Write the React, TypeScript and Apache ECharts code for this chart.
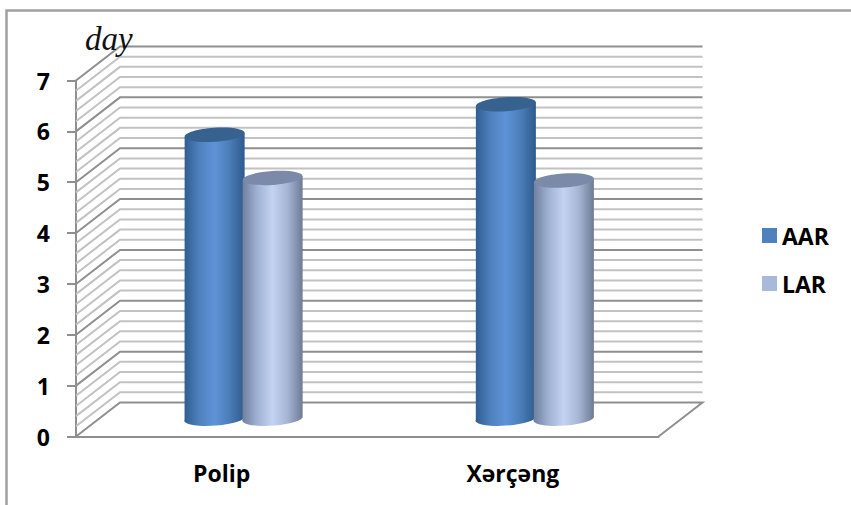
import React, { useEffect, useRef } from "react";
import * as echarts from "echarts";

const categories = ["Polip", "Xərçəng"];
const aarValues = [5.6, 6.2];
const larValues = [4.75, 4.7];
const yTicks = [0, 1, 2, 3, 4, 5, 6, 7];
const minorLevels = [
  0.2, 0.4, 0.6, 0.8, 1.2, 1.4, 1.6, 1.8, 2.2, 2.4, 2.6, 2.8, 3.2, 3.4, 3.6, 3.8,
  4.2, 4.4, 4.6, 4.8, 5.2, 5.4, 5.6, 5.8, 6.2, 6.4, 6.6, 6.8,
];

// Oblique projection of the floor depth, in pixels.
const DEPTH_X = 44;
const DEPTH_Y = 34;
const CYL_WIDTH = 60;
const RX = CYL_WIDTH / 2;
const RY = 7;
const TILT = -4;

const FONT = "'Open Sans', 'Noto Sans', sans-serif";

function App() {
  const ref = useRef<HTMLDivElement>(null);

  useEffect(() => {
    document.body.style.margin = "0";
    const chart = echarts.init(ref.current!, null, { renderer: "svg" });

    const wallLine = (isMajor: boolean) => ({
      stroke: isMajor ? "#8f8f8f" : "#c2c2c2",
      lineWidth: 2,
      fill: "none",
    });

    const renderWall = (params: any, api: any) => {
      const level = api.value(0) as number;
      const isMajor = yTicks.includes(level);
      const rect = params.coordSys;
      const y = api.coord([0, level])[1];
      const xL = rect.x;
      const xR = rect.x + rect.width;
      const points =
        level > 0
          ? [[xL, y], [xL + DEPTH_X, y - DEPTH_Y], [xR + DEPTH_X, y - DEPTH_Y]]
          : [[xL, y], [xL + DEPTH_X, y - DEPTH_Y], [xR + DEPTH_X, y - DEPTH_Y], [xR, y]];
      return {
        type: "polyline",
        shape: { points },
        style: wallLine(isMajor),
      };
    };

    const renderCylinder = (side: number, shades: string[], topColor: string) => (params: any, api: any) => {
      const base = api.coord([api.value(0), 0]);
      const top = api.coord([api.value(0), api.value(1)]);
      const cx = base[0] + DEPTH_X / 2 + (side * CYL_WIDTH) / 2 - side * 1;
      const by = base[1] - DEPTH_Y / 2;
      const ty = top[1] - DEPTH_Y / 2;
      const l = cx - RX;
      const r = cx + RX;
      const dy = TILT / 2;
      const rot = Math.atan2(-TILT, CYL_WIDTH);
      const rotDeg = (Math.atan2(TILT, CYL_WIDTH) * 180) / Math.PI;
      const d =
        `M${l} ${ty - dy}L${r} ${ty + dy}L${r} ${by + dy}` +
        `A${RX} ${RY} ${rotDeg} 0 1 ${l} ${by - dy}Z`;
      return {
        type: "group",
        children: [
          {
            type: "path",
            shape: { pathData: d },
            style: {
              fill: {
                type: "linear",
                x: 0,
                y: 0,
                x2: 1,
                y2: 0,
                colorStops: shades.map((color, i) => ({ offset: i / (shades.length - 1), color })),
              },
            },
          },
          {
            type: "ellipse",
            shape: { cx: 0, cy: 0, rx: RX, ry: RY },
            x: cx,
            y: ty,
            rotation: rot,
            style: { fill: topColor },
          },
        ],
      };
    };

    chart.setOption({
      animation: false,
      backgroundColor: "#ffffff",
      title: {
        text: "day",
        left: 80,
        top: 17,
        textStyle: {
          fontFamily: "'Liberation Serif', serif",
          fontStyle: "italic",
          fontWeight: "normal",
          fontSize: 33,
          color: "#111111",
        },
      },
      legend: {
        orient: "vertical",
        left: 762,
        top: 224,
        padding: 0,
        itemWidth: 15,
        itemHeight: 15,
        itemGap: 25,
        textStyle: { fontFamily: FONT, fontWeight: "bold", fontSize: 23, color: "#000000" },
        data: [
          { name: "AAR", icon: "rect", itemStyle: { color: "#4f81bd" } },
          { name: "LAR", icon: "rect", itemStyle: { color: "#a9b9d9" } },
        ],
      },
      grid: { left: 76, right: 192.5, top: 80.5, bottom: 68.5 },
      xAxis: {
        type: "category",
        data: categories,
        axisLine: { show: true, lineStyle: { color: "#8f8f8f", width: 2 } },
        axisTick: { show: false },
        axisLabel: { fontFamily: FONT, fontWeight: "bold", fontSize: 23, color: "#000000", margin: 25 },
      },
      yAxis: {
        type: "value",
        min: 0,
        max: 7,
        interval: 1,
        splitLine: { show: false },
        axisLine: { show: true, lineStyle: { color: "#8f8f8f", width: 2 } },
        axisTick: { show: true, length: 9, lineStyle: { color: "#8f8f8f", width: 2 } },
        axisLabel: { fontFamily: FONT, fontWeight: "bold", fontSize: 23, color: "#000000", margin: 26 },
      },
      graphic: [
        {
          type: "polyline",
          shape: { points: [[6.5, 505], [6.5, 10.5], [851, 10.5]] },
          style: { stroke: "#a0a0a0", lineWidth: 2.5, fill: "none" },
          silent: true,
        },
      ],
      series: [
        {
          type: "custom",
          name: "wall",
          coordinateSystem: "cartesian2d",
          renderItem: renderWall,
          encode: { y: 0 },
          data: [...minorLevels, ...yTicks].map((v) => [v]),
          silent: true,
          z: 1,
        },
        {
          type: "custom",
          name: "AAR",
          coordinateSystem: "cartesian2d",
          itemStyle: { color: "#4f81bd" },
          renderItem: renderCylinder(-1, ["#2f5d92", "#4f81bd", "#5e93d8", "#4a7db8", "#2f5a8c"], "#37618f"),
          encode: { x: 0, y: 1 },
          data: categories.map((_, i) => [i, aarValues[i]]),
          z: 2,
        },
        {
          type: "custom",
          name: "LAR",
          coordinateSystem: "cartesian2d",
          itemStyle: { color: "#a9b9d9" },
          renderItem: renderCylinder(1, ["#6f7f9c", "#a0b2d3", "#c3d3f1", "#a5b5d3", "#6d7b95"], "#7a8aa8"),
          encode: { x: 0, y: 1 },
          data: categories.map((_, i) => [i, larValues[i]]),
          z: 3,
        },
      ],
    });

    return () => chart.dispose();
  }, []);

  return <div ref={ref} style={{ width: 851, height: 505 }} />;
}

export default App;
